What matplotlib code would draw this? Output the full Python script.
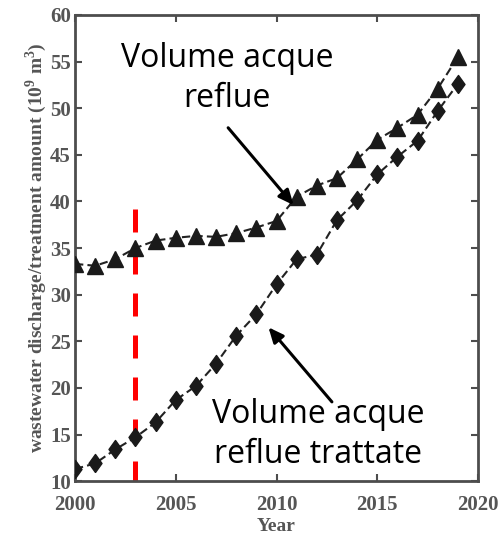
import matplotlib.pyplot as plt
import numpy as np

# Data
years = np.arange(2000, 2020)
discharge = [33.3, 33.1, 33.8, 35.0, 35.8, 36.1, 36.3, 36.2, 36.6, 37.2,
             37.9, 40.5, 41.7, 42.5, 44.5, 46.6, 47.9, 49.3, 52.1, 55.5]
treated = [11.3, 11.9, 13.4, 14.7, 16.3, 18.7, 20.2, 22.6, 25.6, 27.9,
           31.1, 33.8, 34.3, 38.0, 40.1, 42.9, 44.8, 46.5, 49.7, 52.6]
marker_year = 2003
marker_top = 39.2

plt.rcParams["mathtext.fontset"] = "custom"
plt.rcParams["mathtext.rm"] = "Liberation Serif:bold"

gray = "#555555"
serif = {"family": "Liberation Serif", "weight": "bold", "color": gray}

fig = plt.figure(figsize=(5.0, 5.34), dpi=100)
ax = fig.add_axes([0.15, 0.099, 0.806, 0.873])

# red dashed line marking 2003
ax.plot([marker_year, marker_year], [marker_top, 10], color="red", lw=3.6,
        dashes=(4.6, 3.8), zorder=1)

diamond = [(0, -1), (0.72, 0), (0, 1), (-0.72, 0), (0, -1)]
ax.plot(years, discharge, ls=(0, (4, 2)), color="#222222", lw=1.5,
        marker="^", ms=11, mfc="#1a1a1a", mec="#1a1a1a", zorder=3)
ax.plot(years, treated, ls=(0, (4, 2)), color="#222222", lw=1.5,
        marker=diamond, ms=13, mfc="#1a1a1a", mec="#1a1a1a", zorder=3)

ax.set_xlim(2000, 2020)
ax.set_ylim(10, 60)
ax.set_xticks([2000, 2005, 2010, 2015, 2020])
ax.set_yticks(np.arange(10, 61, 5))

for s in ax.spines.values():
    s.set_color("#4d4d4d")
    s.set_linewidth(2)
ax.tick_params(direction="in", length=5, width=1.5, color="#4d4d4d",
               top=True, right=True, labelsize=15, labelcolor=gray, pad=3)
ax.tick_params(axis="x", pad=10)
for lab in ax.get_xticklabels() + ax.get_yticklabels():
    lab.set_fontfamily("Liberation Serif")
    lab.set_fontweight("bold")

ax.set_xlabel("Year", fontsize=14, labelpad=2, **serif)
ax.set_ylabel("wastewater discharge/treatment amount (10$^9$ m$^3$)",
              fontsize=14, labelpad=1, **serif)

# annotations
arrow = dict(arrowstyle="-|>,head_length=0.9,head_width=0.4",
             color="black", lw=2.2, shrinkA=0, shrinkB=0)
ax.text(2007.55, 53.2, "Volume acque\nreflue", ha="center", va="center",
        fontsize=23, family="Open Sans", linespacing=1.3)
ax.annotate("", xy=(2010.85, 39.6), xytext=(2007.6, 47.9), arrowprops=arrow)
ax.text(2012.05, 15.0, "Volume acque\nreflue trattate", ha="center",
        va="center", fontsize=23, family="Open Sans", linespacing=1.3)
ax.annotate("", xy=(2009.6, 26.5), xytext=(2012.75, 18.5), arrowprops=arrow)

fig.savefig("out.png", dpi=100)
